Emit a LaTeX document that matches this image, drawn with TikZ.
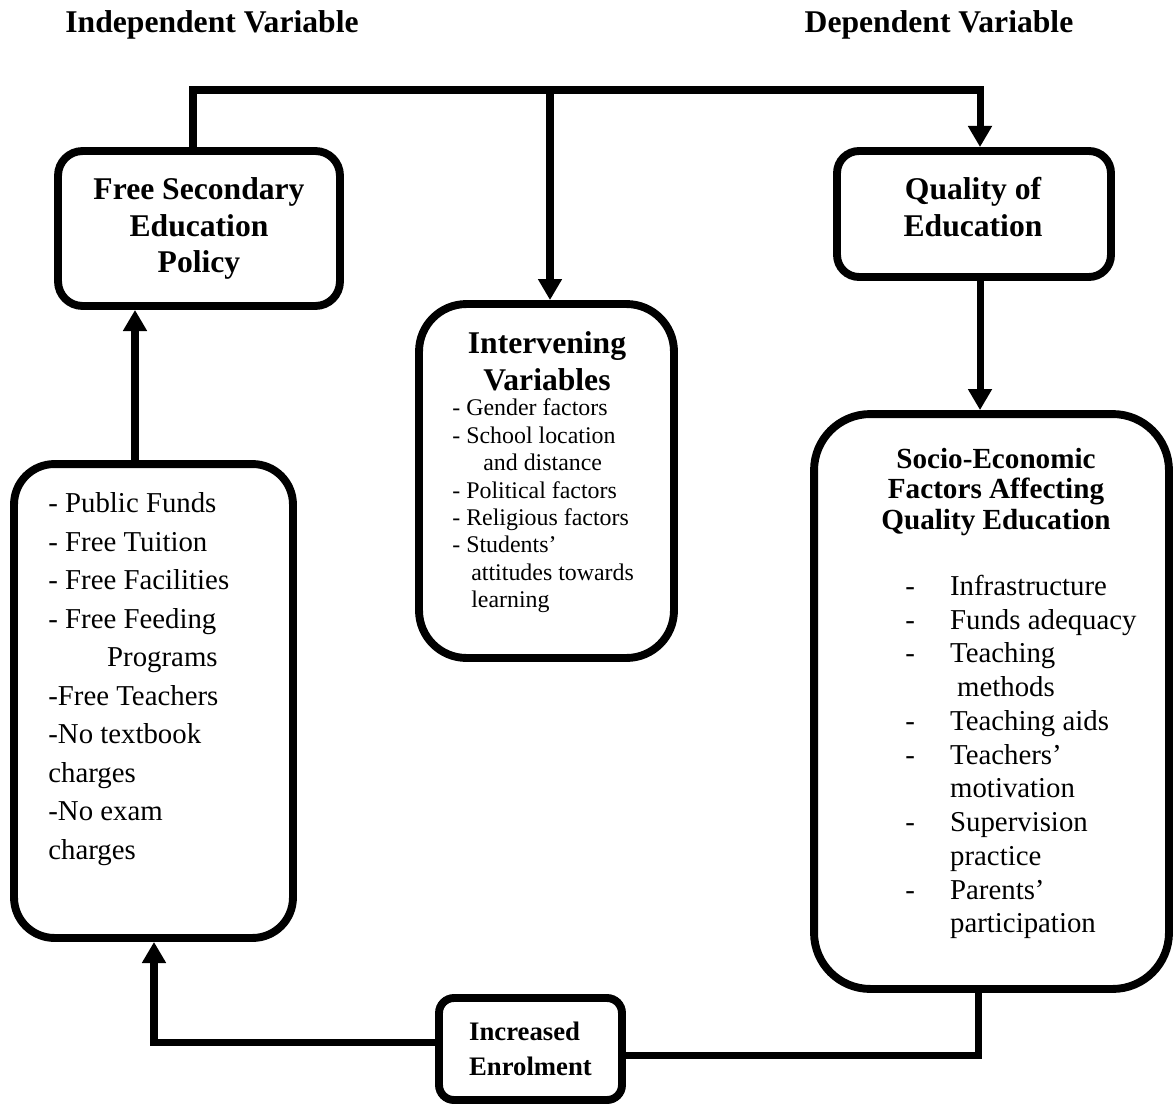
\documentclass[tikz,border=0pt]{standalone}
\usepackage{fontspec}
\setmainfont{Liberation Serif}
\usetikzlibrary{arrows.meta}
\newcommand{\sedash}{\makebox[25.5pt][l]{-}}
\newcommand{\seind}{\hspace*{25.5pt}}
\begin{document}
\begin{tikzpicture}[x=0.02cm, y=-0.02cm]
    \tikzset{>={Triangle[width=13pt,length=12pt]}}
    \tikzset{box/.style={draw, line width=4.5pt, inner sep=0pt},
             link/.style={line width=4pt},
             head/.style={font=\fontsize{18}{21}\selectfont\bfseries, align=center, inner sep=0pt},
             list/.style={align=left, anchor=west, inner sep=0pt}}
    \useasboundingbox (0,0) rectangle (1175,1108);
    \node[head] (indep) at (212,25) {Independent Variable};
    \node[head] (dep) at (939,25) {Dependent Variable};
    \node[box, rounded corners=14pt, minimum width=5.64cm, minimum height=3.10cm, head] (fse) at (199,228.5) {Free Secondary\\Education\\Policy};
    \node[box, rounded corners=12.5pt, minimum width=5.48cm, minimum height=2.52cm] (qual) at (974,214) {};
    \node[head] (qualtext) at (973,207) {Quality of\\Education};
    \node[box, rounded corners=27pt, minimum width=5.10cm, minimum height=7.08cm] (inter) at (546.5,481) {};
    \node[head] (intertitle) at (547,361) {Intervening\\Variables};
    \node[list, font=\fontsize{13.6}{15.6}\selectfont] (interlist) at (452,506) {- Gender factors\\- School location\\\hspace*{17.6pt}and distance\\- Political factors\\- Religious factors\\- Students’\\\hspace*{10.8pt}attitudes towards\\\hspace*{10.8pt}learning};
    \node[box, rounded corners=23pt, minimum width=5.58cm, minimum height=9.48cm] (policy) at (153.5,701) {};
    \node[list, font=\fontsize{16.4}{21.9}\selectfont] (policylist) at (48,679) {- Public Funds\\- Free Tuition\\- Free Facilities\\- Free Feeding\\\hspace*{33.5pt}Programs\\-Free Teachers\\-No textbook\\charges\\-No exam\\charges};
    \node[box, rounded corners=32pt, minimum width=7.10cm, minimum height=11.50cm] (socio) at (991.5,701.5) {};
    \node[head, font=\fontsize{16.6}{17.4}\selectfont\bfseries] (sociotitle) at (996,492) {Socio-Economic\\Factors Affecting\\Quality Education};
    \node[list, font=\fontsize{16.4}{19.2}\selectfont] (sociolist) at (905,757) {\sedash Infrastructure\\\sedash Funds adequacy\\\sedash Teaching\\\seind\hspace*{4pt}methods\\\sedash Teaching aids\\\sedash Teachers’\\\seind motivation\\\sedash Supervision\\\seind practice\\\sedash Parents’\\\seind participation};
    \node[box, rounded corners=8.5pt, minimum width=3.66cm, minimum height=2.04cm, align=left, font=\fontsize{15.2}{19.8}\selectfont\bfseries] (enrol) at (530.5,1049) {Increased\\Enrolment};
    \coordinate (busL) at (193,90);
    \coordinate (busM) at (550,90);
    \coordinate (busR) at (980,90);
    \coordinate (upL) at (135,400);
    \coordinate (loopL) at (154,1042);
    \coordinate (loopR) at (978,1055);
    \draw[link, ->] (fse.north -| busL) |- (busR) -- (qual.north -| busR);
    \draw[link, ->] (busM) -- (inter.north -| busM);
    \draw[link, ->] (qual.south -| busR) -- (socio.north -| busR);
    \draw[link, ->] (policy.north -| upL) -- (fse.south -| upL);
    \draw[link] (socio.south -| loopR) -- (loopR) -- (enrol.east |- loopR);
    \draw[link, ->] (enrol.west |- loopL) -- (loopL) -- (policy.south -| loopL);
\end{tikzpicture}
\end{document}
